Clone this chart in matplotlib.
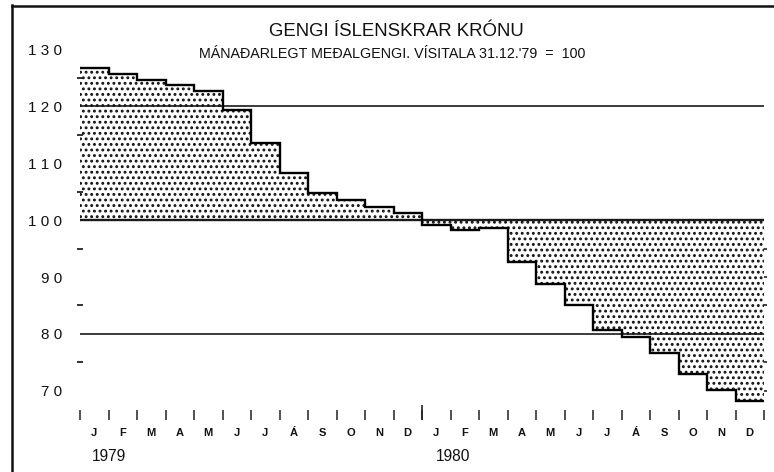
import numpy as np
import matplotlib
matplotlib.use("Agg")
import matplotlib.pyplot as plt
import matplotlib.transforms as mtransforms
from matplotlib.lines import Line2D
from matplotlib.ticker import FixedLocator, FuncFormatter

plt.rcParams['font.family'] = ['Liberation Sans', 'DejaVu Sans']
plt.rcParams['hatch.linewidth'] = 1.3

# ---- data ----
title = "GENGI ÍSLENSKRAR KRÓNU"
subtitle = "MÁNAÐARLEGT MEÐALGENGI. VÍSITALA 31.12.'79  =  100"
month_labels = ['J', 'F', 'M', 'A', 'M', 'J', 'J', 'Á', 'S', 'O', 'N', 'D']
years = ['1979', '1980']
index_1979 = [126.7, 125.6, 124.6, 123.7, 122.7, 119.3, 113.5, 108.2, 104.7, 103.6, 102.2, 101.2]
index_1980 = [99.1, 98.2, 98.6, 92.7, 88.7, 85.1, 80.7, 79.4, 76.6, 73.0, 70.2, 68.3]
base_value = 100
ref_lines = [120, 100, 80]
ytick_values = [70, 80, 90, 100, 110, 120, 130]

values = np.array(index_1979 + index_1980)
n = len(values)
edges = np.arange(n + 1)

fig = plt.figure(figsize=(7.74, 4.72), dpi=100)
ax = fig.add_axes([80 / 774, 1 - 420 / 472, (764 - 80) / 774, 380 / 472])
ax.set_xlim(0, n)
ax.set_ylim(64.9, 131.6)

# stippled fill between step curve and base
ax.stairs(values, edges, baseline=base_value, fill=True, facecolor='white',
          edgecolor='#111', linewidth=0, hatch='...', zorder=1)
# reference lines
for v in ref_lines:
    ax.axhline(v, color='#1a1a1a', lw=1.7 if v == base_value else 1.2, zorder=2)
# step outline
ax.stairs(values, edges, baseline=None, color='black', lw=1.7, zorder=3)

for s in ax.spines.values():
    s.set_visible(False)

# y axis
ax.yaxis.set_major_locator(FixedLocator(ytick_values))
ax.yaxis.set_major_formatter(FuncFormatter(lambda v, p: ' '.join(str(int(round(v))))))
minor_y = [v for v in range(70, 131, 5) if v not in ref_lines and v != 130]
ax.yaxis.set_minor_locator(FixedLocator(minor_y))
ax.tick_params(axis='y', which='major', length=0, pad=13, labelsize=11, labelcolor='#111')
ax.tick_params(axis='y', which='minor', length=5, width=1.3, direction='inout', color='#222')

# right side small ticks below the base line
sec_y = ax.secondary_yaxis('right')
sec_y.set_yticks([v for v in minor_y if v < base_value])
sec_y.tick_params(length=4, width=1.2, direction='inout', labelright=False, color='#222')
for s in sec_y.spines.values():
    s.set_visible(False)

# x axis: month boundary ticks, month labels in between
ax.xaxis.set_major_locator(FixedLocator(list(range(0, n + 1))))
ax.xaxis.set_major_formatter(FuncFormatter(lambda v, p: ''))
ax.xaxis.set_minor_locator(FixedLocator(list(np.arange(n) + 0.5)))
ax.set_xticklabels(month_labels * 2, minor=True)
ax.tick_params(axis='x', which='major', length=7, width=1.1, direction='in', color='#222')
ax.tick_params(axis='x', which='minor', length=0, pad=5.5, labelsize=8, labelcolor='#111')
for lab in ax.get_xticklabels(minor=True):
    lab.set_fontweight('bold')

sec_x = ax.secondary_xaxis('bottom')
sec_x.set_xticks([12])
sec_x.tick_params(length=11, width=1.2, direction='in', labelbottom=False, color='#222')
for s in sec_x.spines.values():
    s.set_visible(False)

trans = mtransforms.blended_transform_factory(ax.transData, ax.transAxes)
for i, yr in enumerate(years):
    ax.text(0.42 + 12.07 * i, -0.097, yr, transform=trans, ha='left', va='center',
            fontsize=11.2, color='#111')

fig.text(396 / 774, 1 - 31 / 472, title, ha='center', va='center', fontsize=13.4, color='#111')
fig.text(392 / 774, 1 - 54 / 472, subtitle, ha='center', va='center', fontsize=10.3, color='#111')

# frame lines
fig.add_artist(Line2D([11.5 / 774, 11.5 / 774], [0, 1 - 5 / 472], transform=fig.transFigure,
                      color='#111', lw=1.8))
fig.add_artist(Line2D([11.5 / 774, 1], [1 - 5.5 / 472, 1 - 5.5 / 472], transform=fig.transFigure,
                      color='#111', lw=1.8))

fig.savefig('out.png', dpi=100)
